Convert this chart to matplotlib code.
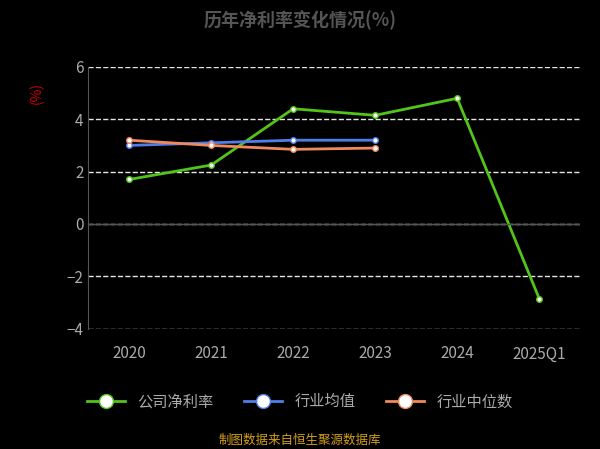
import matplotlib

matplotlib.use("Agg")

import matplotlib.pyplot as plt

plt.rcParams["font.family"] = ["Noto Sans CJK SC", "DejaVu Sans"]

years = ["2020", "2021", "2022", "2023", "2024", "2025Q1"]
company = [1.7, 2.25, 4.4, 4.15, 4.8, -2.85]
industry_mean = [3.0, 3.1, 3.2, 3.2]
industry_median = [3.2, 3.0, 2.85, 2.9]

fig = plt.figure(figsize=(6, 4.49), dpi=100, facecolor="black")
ax = fig.add_axes([0.147, 0.268, 0.82, 0.583], facecolor="black")

x = list(range(len(years)))
ax.plot(x, company, color="#52c41a", lw=2, marker="o", ms=4,
        mfc="white", mec="#52c41a", label="公司净利率")
ax.plot(x[:4], industry_mean, color="#4f7ee8", lw=2, marker="o", ms=4,
        mfc="white", mec="#4f7ee8", label="行业均值")
ax.plot(x[:4], industry_median, color="#f08a5d", lw=2, marker="o", ms=4,
        mfc="white", mec="#f08a5d", label="行业中位数")

ax.set_xlim(-0.5, len(years) - 0.5)
ax.set_ylim(-4, 6)
ax.set_yticks([-4, -2, 0, 2, 4, 6])
ax.set_xticks(x)
ax.set_xticklabels(years)
ax.grid(axis="y", color="white", ls="--", lw=1, alpha=0.9)
for s in ["top", "right", "bottom"]:
    ax.spines[s].set_visible(False)
ax.spines["left"].set_color("#555555")
ax.axhline(0, color="#555555", lw=1)
ax.tick_params(colors="#aaaaaa", labelsize=11, length=0)
ax.tick_params(axis="x", pad=12)
ax.set_ylabel("(%)", color="#cc0000", fontsize=10)
ax.yaxis.set_label_coords(-0.09, 0.9)

fig.text(0.5, 0.955, "历年净利率变化情况(%)", ha="center", va="center",
         color="#555555", fontsize=13, fontweight="bold")
leg = fig.legend(loc="center", bbox_to_anchor=(0.5, 0.105), ncol=3,
                 frameon=False, fontsize=11, labelcolor="#aaaaaa",
                 markerscale=2.5, handlelength=2.5)
fig.text(0.5, 0.02, "制图数据来自恒生聚源数据库", ha="center", va="center",
         color="#d4a017", fontsize=9)

fig.savefig("out.png", dpi=100, facecolor="black")
